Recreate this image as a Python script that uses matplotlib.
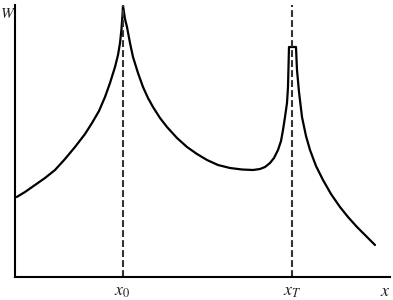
import matplotlib
matplotlib.use("Agg")
import matplotlib.pyplot as plt

# Curve (x position, W height) in axis units
x_vals = [1.7, 10, 20, 30, 40, 50, 60, 70, 77, 84, 90, 95, 100, 103, 105, 106.5, 107.5, 108,
          108.5, 110, 112, 115, 118, 123, 128, 133, 138, 145, 152, 162, 172, 182, 192,
          203, 215, 227, 238, 245, 250, 255, 259, 263, 266, 268, 270, 272, 273, 273.5, 274,
          281, 281.5, 282, 284, 287, 291, 295, 301, 308, 316, 325, 333, 342, 351, 360]
w_vals = [80, 85, 92, 99, 107, 118, 130, 143, 154, 166, 180, 194, 210, 222, 234, 248, 262, 271,
          268, 258, 250, 234, 220, 204, 190, 179, 170, 159, 150, 139, 130, 123, 117,
          112, 109, 107.5, 107, 108, 110, 114, 119, 127, 136, 147, 160, 174, 190, 210, 230,
          230, 218, 207, 185, 160, 141, 127, 111, 97, 83, 70, 60, 50, 41, 32]

x_marks = [107.5, 277]
mark_labels = ["$x_0$", "$x_T$"]
x_max = 375
w_max = 272

plt.rcParams["mathtext.fontset"] = "stix"
fig = plt.figure(figsize=(3.93, 3.0), dpi=100)
ax = fig.add_axes([15/393, 23/300, 375/393, 272/300])
ax.set_xlim(0, x_max)
ax.set_ylim(0, w_max)
ax.plot(x_vals, w_vals, color="black", lw=1.6, solid_joinstyle="round", solid_capstyle="round")
for xm in x_marks:
    ax.plot([xm, xm], [0, w_max], color="#333333", lw=1.5, dashes=(3.3, 1.5))
for s in ["top", "right"]:
    ax.spines[s].set_visible(False)
for s in ["left", "bottom"]:
    ax.spines[s].set_linewidth(1.5)
    ax.spines[s].set_color("black")
ax.set_xticks([])
ax.set_yticks([])

fs = 13
for xm, lab in zip(x_marks, mark_labels):
    ax.text(xm, -5, lab, ha="center", va="top", fontsize=fs, color="#222222")
ax.text(370, -5, "$x$", ha="center", va="top", fontsize=fs, color="#222222")
fig.text(0.5/393, 1 - 14/300, "$W$", ha="left", va="center", fontsize=11, color="#222222")

fig.savefig("out.png", dpi=100)
